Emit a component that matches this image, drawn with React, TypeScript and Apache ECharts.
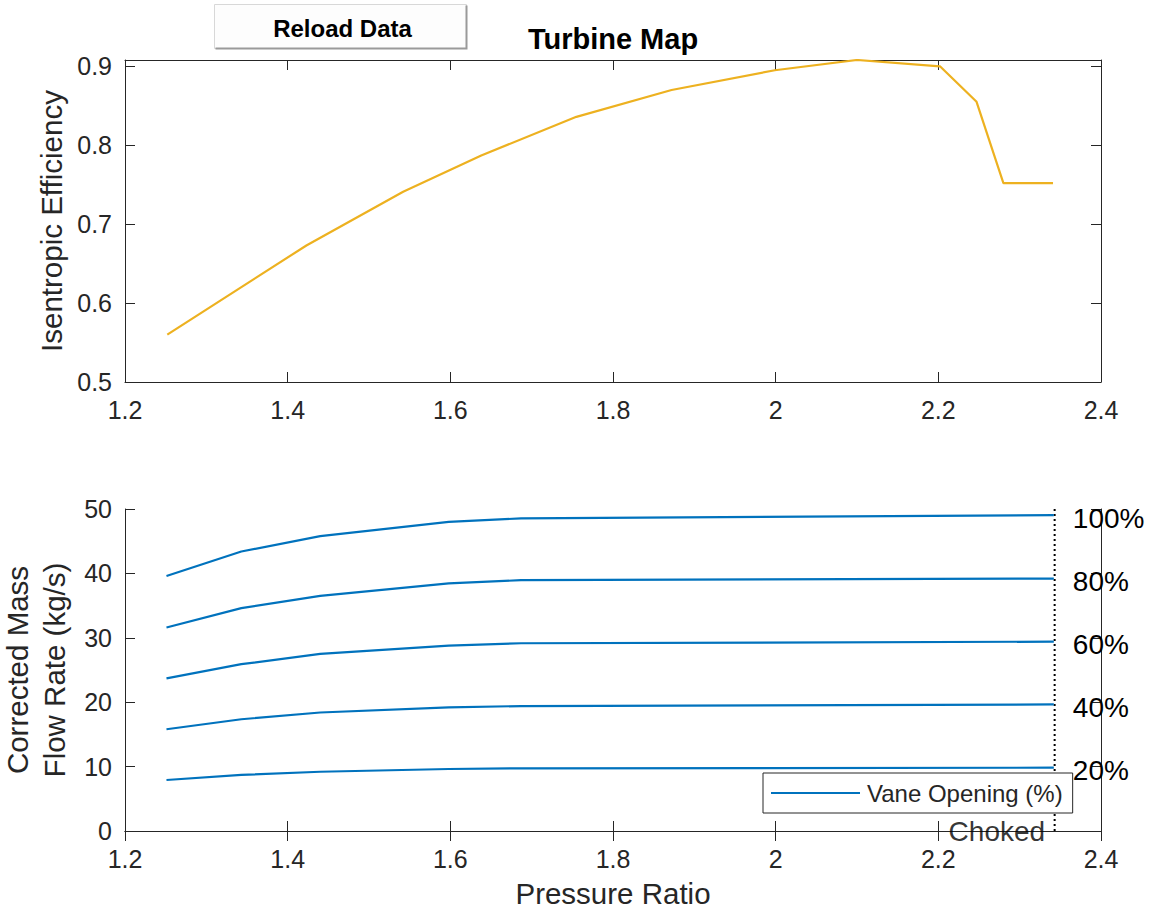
import React, { useEffect, useRef } from "react";
import * as echarts from "echarts";

// Efficiency curve (top)
const effX = [1.252, 1.423, 1.542, 1.638, 1.755, 1.872, 1.999, 2.1, 2.202, 2.247, 2.28, 2.341];
const eff = [0.56, 0.673, 0.741, 0.787, 0.836, 0.87, 0.895, 0.908, 0.9, 0.855, 0.752, 0.752];

// Mass flow curves (bottom)
const flowX = [1.251, 1.343, 1.44, 1.598, 1.687, 2.342];
const vaneOpenings = [20, 40, 60, 80, 100];
const flow20 = [7.92, 8.7, 9.2, 9.63, 9.73, 9.83];
const flow40 = [15.8, 17.35, 18.4, 19.2, 19.4, 19.65];
const flow60 = [23.7, 25.9, 27.5, 28.8, 29.15, 29.4];
const flow80 = [31.6, 34.6, 36.5, 38.45, 38.95, 39.2];
const flow100 = [39.6, 43.4, 45.8, 48.0, 48.55, 49.05];
const flows = [flow20, flow40, flow60, flow80, flow100];

const chokeX = 2.343;
const flowRange = [0, 50];

const FONT = "'Liberation Sans', Arial, sans-serif";
const AX = "#262626";

export default function App() {
  const ref = useRef<HTMLDivElement>(null);
  useEffect(() => {
    if (!ref.current) return;
    const chart = echarts.init(ref.current, undefined, { renderer: "svg" });
    const effMax = Math.max(...eff);
    const line = { show: true, lineStyle: { color: AX, width: 1 } };
    const tick = { show: true, inside: true, length: 10, lineStyle: { color: AX, width: 1 } };
    const lbl = { fontSize: 25, color: AX, fontFamily: FONT };
    const xBase = (grid: number, pos: string, labels: boolean, extra: any = {}) => ({
      type: "value",
      gridIndex: grid,
      position: pos,
      min: 1.2,
      max: 2.4,
      interval: 0.2,
      axisLine: line,
      axisTick: tick,
      splitLine: { show: false },
      axisLabel: labels ? { ...lbl, margin: 15 } : { show: false },
      ...extra,
    });
    const yBase = (grid: number, pos: string, labels: boolean, min: number, max: number, interval: number, extra: any = {}) => ({
      type: "value",
      gridIndex: grid,
      position: pos,
      min,
      max,
      interval,
      axisLine: line,
      axisTick: tick,
      splitLine: { show: false },
      axisLabel: labels ? { ...lbl, margin: 13, showMaxLabel: max % interval < 1e-9 } : { show: false },
      ...extra,
    });
    const nameStyle = { fontSize: 29.5, color: AX, fontFamily: FONT };

    const flowSeries = flows.map((f, i) => ({
      type: "line",
      name: "Vane Opening (%)",
      xAxisIndex: 2,
      yAxisIndex: 2,
      data: flowX.map((x, j) => [x, f[j]]),
      symbol: "none",
      lineStyle: { color: "#0072BD", width: 2.2 },
      itemStyle: { color: "#0072BD" },
      emphasis: { disabled: true },
      endLabel: {
        show: true,
        formatter: `${vaneOpenings[i]}%`,
        distance: 19,
        offset: [0, 3],
        fontSize: 28,
        color: "#000",
        fontFamily: FONT,
      },
    }));

    chart.setOption({
      animation: false,
      backgroundColor: "#fff",
      title: {
        text: "Turbine Map",
        left: 608,
        textAlign: "center",
        top: 19,
        textStyle: { fontSize: 29, fontWeight: "bold", color: "#000", fontFamily: FONT },
      },
      grid: [
        { left: 125, top: 60, width: 976, height: 322, outerBoundsMode: "none", containLabel: false },
        { left: 125, top: 509, width: 976, height: 322, outerBoundsMode: "none", containLabel: false },
      ],
      xAxis: [
        xBase(0, "bottom", true),
        xBase(0, "top", false),
        xBase(1, "bottom", true, {
          name: "Pressure Ratio",
          nameLocation: "middle",
          nameGap: 47,
          nameTextStyle: nameStyle,
        }),
        xBase(1, "top", false),
      ],
      yAxis: [
        yBase(0, "left", true, 0.5, effMax, 0.1, {
          name: "Isentropic Efficiency",
          nameLocation: "middle",
          nameGap: 53,
          nameTextStyle: nameStyle,
        }),
        yBase(0, "right", false, 0.5, effMax, 0.1),
        yBase(1, "left", true, flowRange[0], flowRange[1], 10, {
          name: "Corrected Mass\nFlow Rate (kg/s)",
          nameLocation: "middle",
          nameGap: 40,
          nameTextStyle: { ...nameStyle, lineHeight: 37 },
        }),
        yBase(1, "right", false, flowRange[0], flowRange[1], 10),
      ],
      legend: {
        data: [{ name: "Vane Opening (%)", icon: "rect" }],
        left: 763,
        top: 773,
        itemWidth: 89,
        itemHeight: 2,
        padding: [8, 10, 8, 8],
        borderColor: AX,
        borderWidth: 1,
        borderRadius: 0,
        backgroundColor: "#fff",
        selectedMode: false,
        textStyle: { fontSize: 24, color: AX, fontFamily: FONT, lineHeight: 24, padding: [0, 0, 0, 2] },
        z: 10,
      },
      graphic: [
        {
          type: "group",
          left: 213,
          top: 3,
          children: [
            { type: "rect", shape: { x: 0, y: 0, width: 252, height: 44 }, style: { fill: "#fdfdfd", stroke: "#d8d8d8", lineWidth: 1 } },
            { type: "polyline", shape: { points: [[1, 44], [252, 44], [252, 1]] }, style: { stroke: "#9a9a9a", lineWidth: 2, fill: "none" } },
            {
              type: "text",
              style: {
                text: "Reload Data",
                x: 128,
                y: 24,
                textAlign: "center",
                textVerticalAlign: "middle",
                font: `bold 24px ${FONT}`,
                fill: "#000",
              },
            },
          ],
        },
      ],
      series: [
        {
          type: "line",
          name: "Efficiency",
          xAxisIndex: 0,
          yAxisIndex: 0,
          data: effX.map((x, i) => [x, eff[i]]),
          symbol: "none",
          lineStyle: { color: "#EDB120", width: 2.2 },
          itemStyle: { color: "#EDB120" },
          emphasis: { disabled: true },
        },
        {
          type: "line",
          name: "Choke",
          xAxisIndex: 2,
          yAxisIndex: 2,
          data: [[chokeX, flowRange[0]], [chokeX, flowRange[1]]],
          symbol: "none",
          lineStyle: { color: "#000", width: 2, type: [2, 3] },
          emphasis: { disabled: true },
          z: 1,
        },
        ...flowSeries,
        {
          type: "scatter",
          name: "ChokedLabel",
          xAxisIndex: 2,
          yAxisIndex: 2,
          data: [[chokeX, flowRange[0]]],
          symbolSize: 1,
          itemStyle: { color: "rgba(0,0,0,0)" },
          emphasis: { disabled: true },
          label: {
            show: true,
            position: "left",
            distance: 9,
            formatter: "Choked",
            fontSize: 28,
            color: "#000",
            fontFamily: FONT,
          },
        },
      ],
    });
    return () => chart.dispose();
  }, []);
  return (
    <div
      ref={ref}
      style={{ position: "fixed", left: 0, top: 0, width: 1150, height: 911, background: "#fff" }}
    />
  );
}
